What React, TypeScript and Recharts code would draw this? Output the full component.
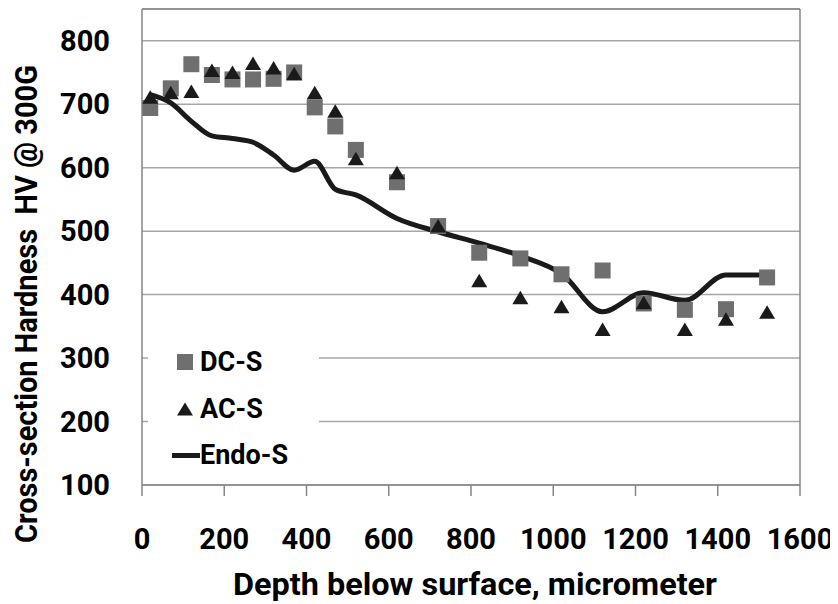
import {
  ComposedChart,
  CartesianGrid,
  Line,
  ReferenceLine,
  Scatter,
  XAxis,
  YAxis,
} from "recharts";

const depth = [20, 70, 120, 170, 220, 270, 320, 370, 420, 470, 520, 620, 720, 820, 920, 1020, 1120, 1220, 1320, 1420, 1520];
const dcS = [694, 725, 763, 746, 739, 739, 740, 750, 695, 665, 628, 577, 508, 466, 457, 432, 438, 386, 376, 377, 427];
const acS = [711, 718, 720, 753, 750, 764, 757, 748, 718, 689, 614, 592, 508, 422, 395, 381, 345, 387, 345, 361, 372];
const endoS = [715, 702, 673, 650, 646, 640, 620, 596, 610, 566, 557, 520, 499, 481, 461, 433, 373, 403, 391, 431, 431];

const xTicks = [0, 200, 400, 600, 800, 1000, 1200, 1400, 1600];
const yTicks = [100, 200, 300, 400, 500, 600, 700, 800];
const seriesNames = ["DC-S", "AC-S", "Endo-S"];

const FONT = "Roboto, 'Noto Sans', sans-serif";
const SQUARE = "#6f6f6f";
const DARK = "#1a1a1a";

const toPoints = (vals: number[]) => depth.map((x, i) => ({ x, y: vals[i] }));

const SquareDot = (p: any) => (
  <rect x={p.cx - 8} y={p.cy - 8} width={16} height={16} fill={SQUARE} />
);

const TriangleDot = (p: any) => (
  <polygon
    points={`${p.cx},${p.cy - 7} ${p.cx - 8},${p.cy + 6.5} ${p.cx + 8},${p.cy + 6.5}`}
    fill={DARK}
  />
);

const XTitle = ({ viewBox }: any) => (
  <text
    x={viewBox.x + viewBox.width / 2 + 4}
    y={viewBox.y + viewBox.height - 9}
    textAnchor="middle"
    fontFamily={FONT}
    fontWeight={700}
    fontSize={32}
    textLength={484}
    lengthAdjust="spacingAndGlyphs"
    fill="#000"
  >
    Depth below surface, micrometer
  </text>
);

const YTitle = ({ viewBox }: any) => {
  const x = viewBox.x + 29;
  const y = viewBox.y + viewBox.height / 2 + 57;
  return (
    <text
      x={x}
      y={y}
      transform={`rotate(-90, ${x}, ${y})`}
      textAnchor="middle"
      fontFamily={FONT}
      fontWeight={700}
      fontSize={32}
      textLength={478}
      lengthAdjust="spacingAndGlyphs"
      fill="#000"
      style={{ whiteSpace: "pre" }}
    >
      {"Cross-section Hardness  HV @ 300G"}
    </text>
  );
};

function LegendIcon({ idx }: { idx: number }) {
  return (
    <svg width={28} height={20} style={{ display: "block" }}>
      {idx === 0 && <rect x={5} y={2} width={16} height={16} fill={SQUARE} />}
      {idx === 1 && <polygon points="13,3.5 5,16.5 21,16.5" fill={DARK} />}
      {idx === 2 && <rect x={0} y={8} width={28} height={5} fill={DARK} />}
    </svg>
  );
}

export default function App() {
  return (
    <div style={{ position: "relative", width: 830, height: 596 }}>
      <ComposedChart width={830} height={596} margin={{ top: 1, right: 38, bottom: 0, left: 0 }}>
        <CartesianGrid vertical={false} stroke="#a6a6a6" strokeWidth={1.5} />
        <XAxis
          dataKey="x"
          type="number"
          domain={[0, 1600]}
          ticks={xTicks}
          interval={0}
          height={119}
          tickSize={11}
          tickMargin={32}
          axisLine={{ stroke: "#868686", strokeWidth: 1.5 }}
          tickLine={{ stroke: "#868686", strokeWidth: 1.5 }}
          tick={{ fill: "#000", fontSize: 29, fontWeight: 700, fontFamily: FONT }}
          label={<XTitle />}
        />
        <YAxis
          type="number"
          domain={[100, 850]}
          ticks={yTicks}
          interval={0}
          allowDataOverflow
          width={134}
          tickSize={0}
          tickMargin={32}
          tickLine={false}
          axisLine={{ stroke: "#868686", strokeWidth: 1.5 }}
          tick={{ fill: "#000", fontSize: 29, fontWeight: 700, fontFamily: FONT }}
          label={<YTitle />}
        />
        <ReferenceLine y={850} stroke="#868686" strokeWidth={1.5} />
        <ReferenceLine x={1600} stroke="#868686" strokeWidth={1.5} />
        <Scatter name={seriesNames[0]} data={toPoints(dcS)} dataKey="y" shape={SquareDot} isAnimationActive={false} />
        <Scatter name={seriesNames[1]} data={toPoints(acS)} dataKey="y" shape={TriangleDot} isAnimationActive={false} />
        <Line
          name={seriesNames[2]}
          data={toPoints(endoS)}
          dataKey="y"
          type="monotone"
          stroke={DARK}
          strokeWidth={5}
          dot={false}
          activeDot={false}
          isAnimationActive={false}
        />
      </ComposedChart>
      <div
        style={{
          position: "absolute",
          left: 140,
          top: 322,
          width: 171,
          height: 152,
          background: "#fff",
          paddingTop: 9,
          boxSizing: "border-box",
        }}
      >
        {seriesNames.map((name, i) => (
          <div
            key={name}
            style={{
              height: 46.5,
              display: "flex",
              alignItems: "center",
              paddingLeft: 24,
              fontFamily: FONT,
              fontWeight: 700,
              fontSize: 27,
              color: "#000",
            }}
          >
            <LegendIcon idx={i} />
            <span>{name}</span>
          </div>
        ))}
      </div>
    </div>
  );
}
